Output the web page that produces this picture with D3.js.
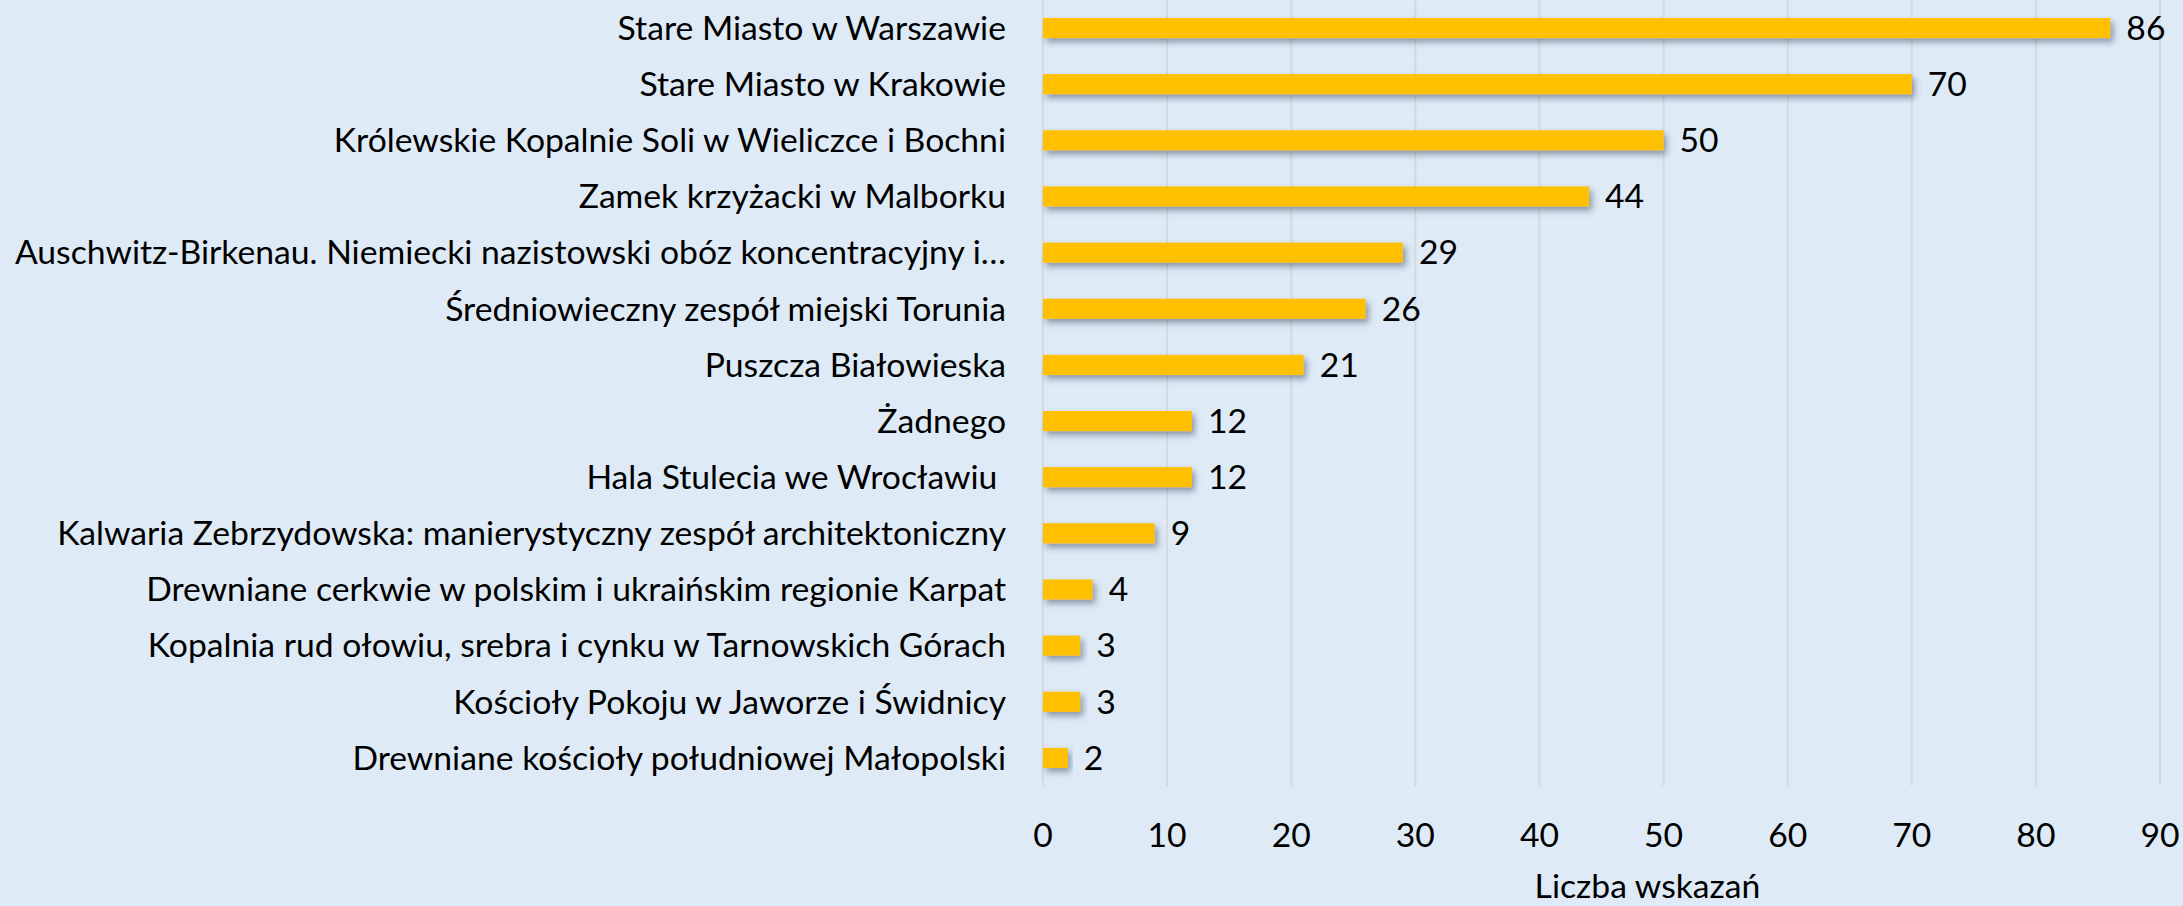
<!DOCTYPE html>
<html>
<head>
<meta charset="utf-8">
<script src="https://cdn.jsdelivr.net/npm/d3@7"></script>
<style>
  body { margin: 0; background: #DEEAF6; }
  svg { display: block; font-family: Lato, "Open Sans", sans-serif; }
</style>
</head>
<body>
<svg id="chart"></svg>
<script>
const categories = [
  "Stare Miasto w Warszawie",
  "Stare Miasto w Krakowie",
  "Królewskie Kopalnie Soli w Wieliczce i Bochni",
  "Zamek krzyżacki w Malborku",
  "Auschwitz-Birkenau. Niemiecki nazistowski obóz koncentracyjny i…",
  "Średniowieczny zespół miejski Torunia",
  "Puszcza Białowieska",
  "Żadnego",
  "Hala Stulecia we Wrocławiu ",
  "Kalwaria Zebrzydowska: manierystyczny zespół architektoniczny",
  "Drewniane cerkwie w polskim i ukraińskim regionie Karpat",
  "Kopalnia rud ołowiu, srebra i cynku w Tarnowskich Górach",
  "Kościoły Pokoju w Jaworze i Świdnicy",
  "Drewniane kościoły południowej Małopolski"
];
const values = [86, 70, 50, 44, 29, 26, 21, 12, 12, 9, 4, 3, 3, 2];
const xTicks = [0, 10, 20, 30, 40, 50, 60, 70, 80, 90];
const axisTitle = "Liczba wskazań";

const width = 2183;
const height = 906;
const margin = {top: 0, right: 23, bottom: 120, left: 1043};
const fontSize = 33.7;

const svg = d3.select("#chart")
    .attr("width", width)
    .attr("height", height)
    .style("font-size", fontSize + "px");

// drop shadow like the Excel bars
const filter = svg.append("defs").append("filter")
    .attr("id", "shadow")
    .attr("x", "-20%").attr("y", "-50%")
    .attr("width", "140%").attr("height", "250%");
filter.append("feDropShadow")
    .attr("dx", 3).attr("dy", 4)
    .attr("stdDeviation", 3)
    .attr("flood-color", "#44546A")
    .attr("flood-opacity", 0.55);

const x = d3.scaleLinear()
    .domain([0, 90])
    .range([margin.left, width - margin.right]);

const y = d3.scaleBand()
    .domain(categories)
    .range([margin.top, height - margin.bottom])
    .paddingInner(0.64)
    .paddingOuter(0.32);

// vertical gridlines
svg.append("g")
  .selectAll("line")
  .data(xTicks)
  .join("line")
    .attr("x1", d => x(d))
    .attr("x2", d => x(d))
    .attr("y1", margin.top)
    .attr("y2", height - margin.bottom)
    .attr("stroke", "#D6D9DD")
    .attr("stroke-width", 2);

// bars
svg.append("g")
  .selectAll("rect")
  .data(values)
  .join("rect")
    .attr("x", x(0))
    .attr("y", (d, i) => y(categories[i]))
    .attr("width", d => x(d) - x(0))
    .attr("height", y.bandwidth())
    .attr("fill", "#FFC000")
    .attr("filter", "url(#shadow)");

// value labels
svg.append("g")
  .selectAll("text")
  .data(values)
  .join("text")
    .attr("x", d => x(d) + 16)
    .attr("y", (d, i) => y(categories[i]) + y.bandwidth() / 2)
    .attr("dy", "0.35em")
    .attr("fill", "#000")
    .text(d => d);

// category labels
svg.append("g")
  .selectAll("text")
  .data(categories)
  .join("text")
    .attr("x", x(0) - 37)
    .attr("y", d => y(d) + y.bandwidth() / 2)
    .attr("dy", "0.35em")
    .attr("text-anchor", "end")
    .style("white-space", "pre")
    .attr("fill", "#000")
    .text(d => d);

// x tick labels
svg.append("g")
  .selectAll("text")
  .data(xTicks)
  .join("text")
    .attr("x", d => x(d))
    .attr("y", 847)
    .attr("text-anchor", "middle")
    .attr("fill", "#000")
    .text(d => d);

// axis title
svg.append("text")
    .attr("x", (x.range()[0] + x.range()[1]) / 2 + 46)
    .attr("y", 898)
    .attr("text-anchor", "middle")
    .attr("fill", "#000")
    .text(axisTitle);
</script>
</body>
</html>
